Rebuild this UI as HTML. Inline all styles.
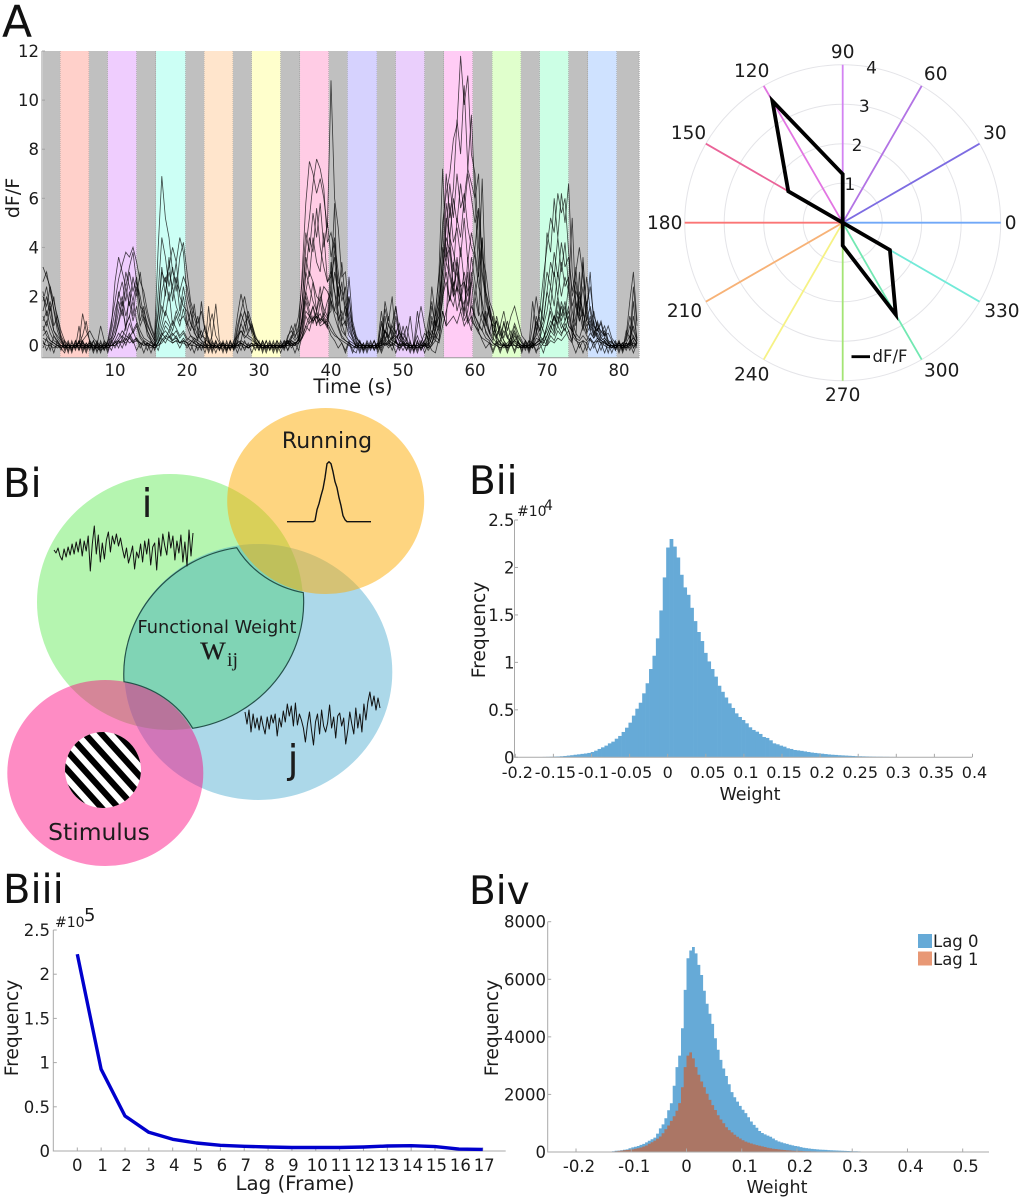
<!DOCTYPE html>
<html lang="en">
<head>
<meta charset="utf-8">
<title>Functional weight figure</title>
<style>
html,body{margin:0;padding:0;background:#fff;width:1027px;height:1200px;overflow:hidden}
svg{display:block}
text{font-family:"DejaVu Sans","Liberation Sans",sans-serif;fill:#1c1c1c}
.panel{font-size:40px;fill:#111}
.tick{font-size:16.5px}
.title{font-size:17.5px}
.freq{font-size:18.7px}
</style>
</head>
<body>
<svg id="fig" xmlns="http://www.w3.org/2000/svg" width="1027" height="1200" viewBox="0 0 1027 1200">
  <rect width="1027" height="1200" fill="#fff"/>

  <text class="panel" x="2" y="36.5" style="font-size:44px">A</text>
  <text class="panel" x="3" y="497">Bi</text>
  <text class="panel" x="469" y="494" style="font-size:39px">Bii</text>
  <text class="panel" x="3" y="903">Biii</text>
  <text class="panel" x="469" y="904" style="font-size:39px">Biv</text>

  <g id="traces-panel"></g>
  <text x="353" y="393" text-anchor="middle" font-size="19.5">Time (s)</text>
  <text transform="translate(19,198) rotate(-90)" text-anchor="middle" font-size="19">dF/F</text>

  <g id="polar-panel"></g>

  <g id="venn">
    <defs>
      <clipPath id="clip-green"><ellipse cx="170" cy="602" rx="133" ry="128"/></clipPath>
      <clipPath id="clip-grating"><circle cx="103" cy="770" r="38"/></clipPath>
    </defs>
    <ellipse cx="170" cy="602" rx="133" ry="128" fill="#b5f5b0"/>
    <ellipse cx="258.3" cy="672" rx="134" ry="128" fill="#acd8e9"/>
    <g clip-path="url(#clip-green)">
      <ellipse cx="258.3" cy="672" rx="134" ry="128" fill="#80d4b5"/>
    </g>
    <ellipse cx="325.7" cy="501" rx="98.5" ry="93" fill="#fdab01" fill-opacity="0.5"/>
    <ellipse cx="105.3" cy="773" rx="98" ry="93" fill="#fd007c" fill-opacity="0.45"/>
    <path d="M236.7 547.7 A134 128 0 0 0 124 681.7 A98 93 0 0 1 192.7 728.3 A133 128 0 0 0 303.3 592.7 A98.5 93 0 0 1 236.7 547.7 Z" fill="none" stroke="#24524a" stroke-width="1.2"/>
    <circle cx="103" cy="770" r="38" fill="#fff"/>
    <g id="grating" clip-path="url(#clip-grating)"></g>
    <text x="147" y="517" font-size="39" text-anchor="middle">i</text>
    <text x="293" y="773" font-size="39" text-anchor="middle">j</text>
    <text x="327" y="448" font-size="22" text-anchor="middle">Running</text>
    <text x="99" y="840" font-size="23.4" text-anchor="middle">Stimulus</text>
    <text x="217" y="633" font-size="17.8" text-anchor="middle">Functional Weight</text>
    <text x="200" y="659" font-size="36" style="font-family:'Liberation Serif',serif">w</text>
    <text x="227" y="666" font-size="20" style="font-family:'Liberation Serif',serif">ij</text>
  </g>

  <g id="bii"></g>
  <text class="title" x="750" y="800" text-anchor="middle">Weight</text>
  <text class="freq" transform="translate(485,630) rotate(-90)" text-anchor="middle">Frequency</text>
  <text x="517" y="516" font-size="14">#10</text>
  <text x="544" y="510" font-size="14">4</text>

  <g id="biii"></g>
  <text x="295" y="1190" text-anchor="middle" font-size="19.8">Lag (Frame)</text>
  <text class="freq" transform="translate(18,1028) rotate(-90)" text-anchor="middle">Frequency</text>
  <text x="55" y="927" font-size="14">#10</text>
  <text x="84" y="921" font-size="18">5</text>

  <g id="biv"></g>
  <text class="title" x="777" y="1193" text-anchor="middle">Weight</text>
  <text class="freq" transform="translate(498,1028) rotate(-90)" text-anchor="middle">Frequency</text>
  <g>
    <rect x="918" y="934" width="14" height="14" fill="#0072bd" fill-opacity="0.6"/>
    <text class="tick" x="933" y="947">Lag 0</text>
    <rect x="918" y="951.5" width="14" height="14" fill="#d95319" fill-opacity="0.6"/>
    <text class="tick" x="933" y="965">Lag 1</text>
  </g>
</svg>

<script>
// ---------- Panel A data ----------
const traceBandStarts = [0,2.4,6.4,9,13,15.7,19.8,22.4,26.4,29,33,35.7,39.7,42.3,46.4,49,53,55.7,59.7,62.4,66.4,69,73,75.7,79.7];
const traceBandEnds   = [2.4,6.4,9,13,15.7,19.8,22.4,26.4,29,33,35.7,39.7,42.3,46.4,49,53,55.7,59.7,62.4,66.4,69,73,75.7,79.7,82.8];
const traceBandColors = ['#c0c0c0','#ffd0ca','#c0c0c0','#efcdfe','#c0c0c0','#ccfff5','#c0c0c0','#ffe5cc','#c0c0c0','#ffffcc','#c0c0c0','#ffcce5','#c0c0c0','#d6d2fe','#c0c0c0','#eacffc','#c0c0c0','#ffccf5','#c0c0c0','#e0ffcc','#c0c0c0','#ccffe5','#c0c0c0','#cfe2ff','#c0c0c0'];
const traceXTicks = [10,20,30,40,50,60,70,80];
const traceYTicks = [0,2,4,6,8,10,12];
const traceSampleStep = 0.5;
// dF/F in tenths, one value per 0.5 s
const traceA = [32,28,24,18,12,6,2,0,-1,0,0,-1,0,-1,0,-1,-2,-1,2,10,18,27,33,38,36,40,34,26,22,14,8,4,40,69,52,44,30,26,22,28,24,16,11,7,4,3,1,0,-1,0,0,-1,-1,1,12,21,14,10,6,3,1,0,-1,0,0,-1,0,-1,3,8,4,6,30,58,75,70,62,68,60,48,108,60,48,28,30,14,8,3,1,0,-1,0,0,-1,4,15,8,6,3,5,3,1,0,0,-1,0,0,-1,0,8,22,50,62,70,84,90,118,98,110,78,70,40,28,20,12,8,4,8,14,6,12,16,10,4,2,0,-1,6,14,28,40,52,46,62,54,60,38,22,30,40,28,16,24,12,8,6,4,8,3,1,0,-1,3,12,6,2];
const traceB = [26,30,22,15,8,3,0,-1,0,-1,1,0,-1,0,-1,0,-1,0,1,8,26,36,30,24,32,38,26,20,12,8,5,2,12,30,26,32,40,34,44,38,20,14,8,4,2,1,0,-1,0,-1,0,-1,0,-1,8,14,20,12,7,2,0,-1,0,0,-1,0,-1,0,1,4,2,4,18,40,52,66,76,72,64,42,46,38,26,22,16,10,4,1,0,-1,0,-1,0,0,-1,6,4,9,16,6,2,0,-1,0,0,-1,1,0,3,14,28,44,70,52,64,92,78,106,72,66,60,70,30,22,14,6,2,0,10,4,1,8,3,1,0,-1,0,10,6,20,46,38,60,44,62,50,66,30,18,12,36,10,8,14,6,9,3,1,0,-1,1,0,-1,2,24,8];
const traceC = [20,16,24,14,6,2,0,0,-1,0,0,-1,-1,0,0,-2,-1,0,0,3,10,22,16,30,24,18,26,16,10,6,2,0,6,22,28,18,24,16,12,20,10,6,17,5,2,0,-1,0,0,-1,-1,0,0,-1,4,9,5,14,9,4,1,-1,0,-1,0,0,-1,0,0,2,1,2,12,30,44,38,56,40,32,26,30,22,14,8,10,4,2,0,-1,0,0,-1,-1,0,0,12,2,3,4,2,1,0,0,-1,0,-1,0,0,12,6,16,30,48,66,52,70,56,62,48,40,36,24,18,10,6,3,1,2,6,3,1,2,1,0,-1,0,2,4,16,10,22,34,28,44,30,42,24,14,8,20,14,8,10,5,9,4,6,2,1,0,-1,0,1,0,4,1];
const traceD = [14,20,12,6,3,1,0,-1,0,0,-1,0,0,-1,0,-1,0,-1,0,2,6,14,20,12,18,10,16,8,12,4,2,0,4,12,22,30,24,34,20,16,14,9,6,2,1,0,0,-1,0,-1,0,0,-1,0,3,6,4,3,2,1,0,-1,0,-1,0,0,-1,0,1,2,1,2,8,22,30,26,20,18,24,22,18,14,12,6,4,2,1,0,-1,0,-1,0,0,-1,3,1,9,3,6,1,0,-1,0,0,-1,0,0,-1,1,4,8,30,44,38,24,30,18,26,20,36,26,14,10,6,3,1,0,-1,0,1,3,1,0,-1,0,0,-1,1,3,8,14,24,16,30,20,28,22,10,5,3,8,14,6,3,5,2,3,1,0,-1,0,-1,0,1,3,1];
const traceE = [10,14,8,4,2,0,-1,0,0,-1,0,2,4,6,3,1,0,-1,0,1,4,9,15,8,12,18,10,6,3,2,1,0,3,8,14,10,6,12,8,15,8,4,3,2,18,6,1,0,-1,0,0,-1,0,0,-1,2,9,4,3,1,0,-1,-1,0,0,-1,0,0,0,1,1,1,6,14,12,10,12,9,11,8,18,12,7,3,2,1,0,-1,0,0,-1,0,-1,0,2,0,1,0,12,3,1,0,-1,0,-1,0,0,2,6,3,9,18,34,28,20,24,14,18,9,12,8,6,14,5,3,1,0,-1,0,0,2,0,-1,0,0,-1,0,0,1,3,8,16,10,20,12,18,8,6,3,2,4,2,5,3,7,3,2,0,0,-1,0,0,-1,0,1,0];
const traceF = [6,10,5,2,1,0,0,-1,0,-1,8,-1,0,0,-1,-1,0,0,-1,0,2,5,3,8,12,6,9,4,2,1,0,-1,1,4,8,6,10,7,4,6,3,2,1,0,0,-1,0,0,-1,0,1,0,-1,0,1,2,1,0,1,0,-1,0,0,-1,0,-1,0,1,2,1,0,1,4,12,9,11,13,10,12,9,6,4,3,2,1,0,-1,0,0,-1,0,0,-1,-1,0,1,0,0,2,0,0,3,-1,0,0,1,5,3,1,6,12,24,40,30,22,34,20,14,30,10,8,5,3,2,1,0,1,0,0,-1,0,0,-1,0,-1,0,0,1,2,3,6,10,8,14,9,6,12,4,2,1,2,1,3,1,2,1,0,-1,0,0,1,-1,0,1,0,1];
const traceG = [4,6,2,1,0,-1,0,0,-1,0,1,13,6,2,0,-1,0,-1,0,0,1,3,6,4,9,5,8,3,1,0,0,-1,0,2,4,3,5,3,1,2,1,0,0,-1,0,0,-1,0,0,-1,-1,0,0,-1,0,1,0,-1,0,0,0,-1,0,0,-1,0,0,-1,1,0,1,1,3,8,6,12,9,11,10,7,26,58,8,4,2,1,0,-1,0,-1,0,-1,0,0,1,6,2,1,0,-1,0,1,0,0,-1,0,2,4,24,12,30,72,36,40,30,52,44,60,72,94,60,30,68,22,16,10,4,1,-1,0,1,0,0,-1,0,-1,0,1,2,1,4,8,5,12,7,10,16,6,3,30,8,4,2,1,3,1,1,0,-1,0,0,1,2,8,3,1];
const traceH = [8,4,2,1,0,-1,0,-1,0,0,1,4,10,1,0,0,-1,0,-1,0,0,2,1,4,3,6,2,1,0,1,0,-1,1,6,10,8,4,6,3,5,2,4,2,1,0,-1,16,1,0,-1,0,-1,0,-1,2,1,0,-1,0,1,0,0,-1,0,-1,0,0,0,2,1,0,3,10,30,24,18,14,20,15,12,14,30,22,9,4,20,6,2,0,-1,0,0,-1,0,9,2,0,3,1,0,1,0,-1,0,14,4,0,10,18,8,16,36,58,44,38,30,24,26,10,16,12,8,6,14,5,2,12,6,2,0,0,4,1,0,0,-1,8,20,10,6,1,6,12,8,18,12,24,52,16,10,34,14,30,8,4,2,1,0,0,-1,0,0,0,-1,12,3];
const traceI = [3,2,1,0,-1,0,-1,0,0,-1,2,1,0,1,0,-1,0,-1,0,0,1,2,4,2,5,2,3,1,1,0,-1,0,1,4,6,4,2,3,1,2,1,2,1,0,-1,0,7,13,4,1,0,0,-1,0,0,1,0,-1,0,0,0,-1,0,0,0,-1,0,0,1,0,1,2,6,18,12,16,11,13,9,10,20,42,30,18,24,8,3,0,-1,0,-1,0,0,1,14,3,4,2,1,6,0,0,0,-1,8,16,8,2,4,10,6,22,30,18,26,14,20,10,14,26,40,55,14,9,5,12,3,1,0,-1,2,5,1,0,-1,0,18,6,2,0,0,4,2,6,4,9,6,2,12,22,12,28,14,6,3,1,2,0,-1,0,0,-1,4,18,30,10];
const traceJ = [1,0,0,-1,0,0,-1,0,-1,0,0,0,-1,0,-1,0,8,2,0,0,0,1,2,1,3,1,2,1,0,1,0,0,0,1,3,2,1,2,1,1,0,1,3,1,0,-1,0,4,17,2,0,0,-1,0,0,0,-1,0,0,-1,0,0,-1,0,0,0,-1,0,0,0,0,3,10,20,14,10,12,8,9,11,34,22,10,14,8,28,10,4,1,0,0,-1,0,0,0,18,10,20,1,0,8,2,12,0,4,0,0,1,10,4,2,14,8,10,12,9,14,8,11,6,20,12,44,8,16,4,10,3,0,0,0,2,0,-1,0,0,1,0,1,2,0,2,1,3,2,4,6,1,32,14,6,18,6,10,3,2,1,0,0,-1,0,0,1,0,18,2];
const traceK = [18,24,14,20,9,3,-1,2,-2,1,-2,2,-1,2,-2,1,-2,2,-1,6,14,20,26,18,30,22,28,16,14,9,5,2,22,44,36,24,32,22,36,42,30,18,13,9,14,6,3,-1,2,-2,2,-2,1,-2,6,13,9,12,5,1,-2,2,-1,2,-2,2,-1,2,-2,3,6,12,26,46,38,54,44,58,40,50,36,44,20,34,18,12,6,2,-2,1,-2,2,-2,1,-2,3,1,4,2,-1,2,-2,1,-2,2,-2,1,-1,4,12,18,30,52,44,60,50,66,54,70,60,50,56,36,30,18,14,6,4,9,3,6,2,4,1,-2,2,-1,3,2,18,30,24,38,28,42,32,36,20,26,14,24,10,16,8,6,10,4,5,2,-1,2,-2,1,4,-1,2];
const traceL = [22,12,18,8,12,4,1,-2,1,-1,2,-2,1,-1,2,-1,1,-2,2,3,8,18,12,24,16,28,20,30,18,12,7,3,14,32,20,36,18,28,14,24,16,9,6,12,3,8,2,-2,1,-1,1,-2,2,-1,1,9,14,6,9,3,1,-2,2,-2,1,-2,2,-1,4,6,3,8,18,36,28,44,34,30,46,26,28,36,16,26,12,20,8,3,1,-2,2,-1,2,-2,10,5,12,4,16,3,5,2,-2,1,-2,2,-1,4,16,8,12,40,34,58,42,48,36,52,34,46,38,28,44,18,12,8,10,5,2,-1,4,9,5,2,-1,2,1,12,6,10,22,16,30,20,34,24,28,16,22,18,10,6,12,4,10,5,8,2,-1,2,-2,1,-1,2,8,2];
const traceM = [12,8,16,6,4,2,-2,1,-2,2,-1,2,-2,1,-2,2,-1,1,-2,1,4,10,18,6,22,12,24,10,16,6,3,1,8,16,12,22,8,14,10,12,8,14,5,3,6,2,-2,2,-1,1,-2,1,-2,2,4,6,3,5,8,2,-1,2,-2,1,-1,2,-1,2,1,3,9,2,12,22,16,26,14,24,12,18,22,14,24,10,16,6,3,-1,2,-2,1,-1,2,-1,2,6,3,8,5,9,2,8,1,-2,1,-1,2,6,4,2,6,20,26,18,34,22,40,26,16,30,20,30,14,10,16,6,3,8,3,10,3,6,2,-1,2,-2,3,9,4,2,8,14,6,18,10,16,8,6,18,10,14,5,8,4,7,3,5,1,2,-2,1,-2,6,3,-1,1];
const traceN = [-1,3,-2,4,1,-2,2,-3,2,-2,2,-3,1,-2,2,-3,2,-2,1,-2,2,-1,3,0,4,1,3,-1,2,-2,2,-2,2,5,3,6,2,4,1,3,1,-2,2,-2,1,-3,2,-3,2,-2,1,-3,2,-2,1,-2,2,-1,1,-2,2,-3,2,-2,2,-3,1,-2,2,-1,1,-2,4,8,12,9,14,10,13,11,8,5,3,1,-2,2,-2,-3,2,-3,1,-2,2,-3,1,0,2,-2,2,-2,1,-2,2,-3,2,-2,1,-2,0,2,1,8,14,20,16,24,20,30,22,26,12,9,6,3,2,-2,2,-2,1,-3,1,-2,2,-3,2,-2,1,-2,-1,1,4,8,12,9,16,10,14,6,3,-1,2,-2,3,-1,2,-2,2,-3,2,-2,2,-3,1,-2,2,-1];
const traceO = [2,-2,1,-3,2,-1,-3,1,-3,2,-2,1,-3,1,-3,1,-3,1,-3,2,-1,2,-1,3,1,2,-2,1,-3,1,-3,1,-2,3,1,4,1,2,-1,2,-1,1,-3,1,-2,2,-3,1,-3,1,-3,2,-2,1,-3,1,-2,1,-3,1,-2,1,-3,1,-3,1,-3,1,-2,1,-3,1,3,6,10,16,8,18,10,8,4,2,-1,1,-3,1,-3,1,-3,1,-3,1,-2,1,-3,1,-1,1,-3,1,-2,1,-3,1,-3,1,-3,1,-2,-3,3,14,8,46,20,36,24,12,36,18,10,6,2,-1,1,-3,1,-3,1,-2,1,-3,1,-2,1,-3,1,-3,1,-3,2,6,4,8,5,7,3,1,-3,1,-3,1,-2,1,-3,1,-3,1,-3,1,-3,1,-2,1,-3,1];
const allTraces = [traceA,traceB,traceC,traceD,traceE,traceF,traceG,traceH,traceI,traceJ,traceK,traceL,traceM,traceN,traceO];

// ---------- Polar data ----------
const polarAngles = [0,30,60,90,120,150,180,210,240,270,300,330];
const polarSpokeColors = ['#70a8f8','#7d6ce2','#b273e4','#d383f2','#e275e2','#ea6398','#fb7575','#f7b277','#f6f285','#a4e474','#72e8b2','#72ead8'];
const polarRings = [1,2,3,4];
const polarResponse = [0,0,0,1.23,3.56,1.59,0,0,0,0.58,2.69,1.38];

// ---------- Bi schematic signals ----------
const signalI = [0,-3,2,-6,-10,1,-7,3,-5,6,-4,8,-2,11,-6,9,-1,14,-21,6,24,-4,15,-12,7,-9,10,18,-2,14,6,16,4,12,1,-8,2,-13,-5,4,-19,-2,-8,6,-12,9,-4,11,-15,3,7,-20,12,-6,16,4,-5,18,2,14,-10,9,-3,15,-12,8,-16,20,-6,17];
const signalJ = [8,-4,10,-12,6,-8,2,-10,4,-6,-14,3,-9,5,-3,6,-16,2,-7,9,-2,16,4,14,-6,17,-5,6,0,-8,-22,-4,8,-10,-25,-2,6,-14,10,-6,-12,-3,15,-8,3,-18,4,7,-6,2,-24,-10,8,-4,-14,12,-8,6,-12,16,0,18,28,14,24,10,22,12];
const signalRunning = [0,0,0,0,0,0,0,0,0,0,0,0,0,0,1,12,18,26,33,44,58,60,58,50,40,34,24,16,6,2,0,0,0,0,0,0,0,0,0,0,0,0,0];

// ---------- Bii data (×10^4) ----------
const biiStart = -0.2;
const biiBinWidth = 0.0045;
const biiCounts = [0,0,.001,.001,.001,.002,.002,.003,.004,.005,.006,.008,.009,.011,.014,.018,.022,.027,.031,.036,.04,.046,.056,.07,.088,.105,.123,.147,.165,.196,.225,.267,.312,.365,.439,.512,.575,.674,.78,.93,1.07,1.253,1.547,1.895,2.21,2.30,2.22,2.105,1.923,1.79,1.712,1.575,1.435,1.32,1.225,1.10,1.01,.93,.85,.754,.69,.63,.568,.52,.463,.425,.393,.358,.316,.288,.27,.246,.214,.204,.179,.147,.137,.123,.112,.095,.088,.077,.073,.068,.062,.056,.05,.046,.042,.038,.034,.03,.027,.025,.022,.02,.018,.016,.014,.012,.011,.01,.009,.008,.007,.006,.006,.005,.005,.004,.004,.003,.003,.003,.002,.002,.002,.002,.001,.001,.001,.001,.001,.001,.001,0,0,0,0,0,0,0,0,0];
const biiXTicks = [-0.2,-0.15,-0.1,-0.05,0,0.05,0.1,0.15,0.2,0.25,0.3,0.35,0.4];
const biiYTicks = [0,0.5,1,1.5,2,2.5];

// ---------- Biii data (×10^5) ----------
const lagFrames = [0,1,2,3,4,5,6,7,8,9,10,11,12,13,14,15,16,17];
const lagFrequency = [2.226,0.925,0.396,0.211,0.132,0.09,0.064,0.053,0.045,0.04,0.04,0.04,0.045,0.057,0.06,0.05,0.022,0.018];
const biiiYTicks = [0,0.5,1,1.5,2,2.5];

// ---------- Biv data ----------
const bivStart = -0.15;
const bivBinWidth = 0.005;
const lag0Counts = [5,8,14,24,40,50,62,75,92,130,160,185,210,245,280,335,390,445,500,640,820,960,1170,1450,1690,2300,2950,3350,4300,5630,6730,7000,7120,6900,6500,6150,5600,5150,4800,4450,3950,3550,3200,2900,2640,2350,2080,1900,1750,1600,1470,1350,1210,1060,940,840,730,660,610,570,530,470,410,365,335,305,280,255,230,210,195,170,150,135,120,108,100,92,85,78,72,66,60,56,52,47,42,38,34,30,27,24,21,19,17,15,13,11,10,9,8,7,6,5,5,4,4,3,3,2];
const lag1Counts = [3,5,10,16,28,38,48,60,70,80,92,110,130,155,190,225,285,340,395,465,540,650,790,920,1080,1240,1430,1700,2250,2950,3350,3460,3250,2950,2680,2450,2250,2020,1810,1630,1460,1280,1130,1000,860,760,680,600,530,470,410,360,325,295,265,240,220,195,175,150,130,115,105,92,80,70,62,55,50,46,42,38,32,28,25,22,20,17,14,12,10,8,7,6,5,4,3,2,2,1];
const bivXTicks = [-0.2,-0.1,0,0.1,0.2,0.3,0.4,0.5];
const bivYTicks = [0,2000,4000,6000,8000];

// ---------- helpers ----------
const NS = 'http://www.w3.org/2000/svg';
function mk(parent, tag, attrs, content) {
  const el = document.createElementNS(NS, tag);
  for (const k in attrs) el.setAttribute(k, attrs[k]);
  if (content !== undefined) el.textContent = content;
  parent.appendChild(el);
  return el;
}
function linear(d0, d1, r0, r1) { return v => r0 + (v - d0) * (r1 - r0) / (d1 - d0); }
const AXIS = '#a9a9a9';

// ---------- Panel A ----------
(function () {
  const g = document.getElementById('traces-panel');
  const x = linear(0, 10, 43, 115);
  const y = linear(0, 12, 345.5, 51);
  traceBandStarts.forEach((s, i) => {
    const r = mk(g, 'rect', {x: x(s), y: y(12), width: x(traceBandEnds[i]) - x(s), height: y(-0.5) - y(12), fill: traceBandColors[i]});
    
    
    const ln = mk(g, 'line', {x1: x(traceBandEnds[i]), x2: x(traceBandEnds[i]), y1: y(12), y2: y(-0.5), stroke: '#777', 'stroke-width': 0.6, 'stroke-dasharray': '1 1'});
    
    
  });
  allTraces.forEach(tr => {
    const d = tr.map((v, i) => (i ? 'L' : 'M') + x(i * traceSampleStep).toFixed(1) + ' ' + y(v / 10).toFixed(1)).join('');
    const p = mk(g, 'path', {d: d, fill: 'none', stroke: '#000', 'stroke-width': 0.8, 'stroke-opacity': 0.72});
    
    
  });
  const ax = mk(g, 'path', {d: `M${x(0) - 1} ${y(12)}V${y(-0.5)}H${x(82.8)}`, fill: 'none', stroke: '#999', 'stroke-width': 1});
  
  
  traceXTicks.forEach(t => {
    const l = mk(g, 'text', {class: 'tick', x: x(t), y: 376, 'text-anchor': 'middle'}, t);
    
    
  });
  traceYTicks.forEach(t => {
    const l = mk(g, 'text', {class: 'tick', x: 39, y: y(t) + 6, 'text-anchor': 'end'}, t);
    
    
    const m = mk(g, 'line', {x1: 42, x2: 45, y1: y(t), y2: y(t), stroke: '#999', 'stroke-width': 0.8});
    
    
  });
})();

// ---------- Polar ----------
(function () {
  const g = document.getElementById('polar-panel');
  const cx = 842.7, cy = 222.7;
  const r = linear(0, 4, 0, 158);
  const px = (a, v) => cx + v * Math.cos(a * Math.PI / 180);
  const py = (a, v) => cy - v * Math.sin(a * Math.PI / 180);
  function labelNudge(a) {
    switch (a) {
      case 30: return [-2, -1];
      case 60: return [4, 5];
      case 120: return [-2, 2];
      case 150: return [0, -1];
      case 210: return [-4, -1];
      case 240: return [-2, -3];
      case 300: return [10, -7];
      case 330: return [5, -1];
      default: return [0, 0];
    }
  }
  polarRings.forEach(v => {
    const c = mk(g, 'circle', {cx: cx, cy: cy, r: r(v), fill: 'none', stroke: '#e4e4e8', 'stroke-width': 1});
    
    
  });
  polarAngles.forEach((a, i) => {
    const s = mk(g, 'line', {x1: cx, y1: cy, x2: px(a, r(4)), y2: py(a, r(4)), stroke: polarSpokeColors[i], 'stroke-width': 1.8});
    
    
    const lr = a === 0 ? 168 : a === 90 ? 171 : a === 180 ? 178 : a === 270 ? 172 : 178;
    const n = labelNudge(a);
    const t = mk(g, 'text', {style: 'font-size:18.5px', x: px(a, lr) + n[0], y: py(a, lr) + 6.5 + n[1], 'text-anchor': 'middle'}, a);
    
    
  });
  polarRings.forEach(v => {
    const t = mk(g, 'text', {style: 'font-size:17px', x: px(79.5, r(v)), y: py(79.5, r(v)) + 6, 'text-anchor': 'middle'}, v);
    
    
  });
  const pts = polarAngles.map((a, i) => px(a, r(polarResponse[i])).toFixed(1) + ',' + py(a, r(polarResponse[i])).toFixed(1)).join(' ');
  const poly = mk(g, 'polygon', {points: pts, fill: 'none', stroke: '#000', 'stroke-width': 3.8, 'stroke-linejoin': 'miter'});
  
  
  const key = mk(g, 'line', {x1: 851.5, x2: 870, y1: 356.7, y2: 356.7, stroke: '#000', 'stroke-width': 2.8});
  
  
  const keyText = mk(g, 'text', {style: 'font-size:16.5px', x: 872.5, y: 362}, 'dF/F');
  
  
})();

// ---------- Bi signals and grating ----------
(function () {
  const g = document.getElementById('venn');
  function draw(values, x0, x1, yBase, sw, color) {
    const step = (x1 - x0) / (values.length - 1);
    const d = values.map((v, i) => (i ? 'L' : 'M') + (x0 + i * step).toFixed(1) + ' ' + (yBase - v).toFixed(1)).join('');
    return mk(g, 'path', {d: d, fill: 'none', stroke: color, 'stroke-width': sw, 'stroke-linejoin': 'round'});
  }
  const a = draw(signalI, 54, 193, 550, 1, '#111');
  
  
  const b = draw(signalJ, 245, 380, 720, 1, '#111');
  
  
  const c = draw(signalRunning, 287, 371, 521.7, 1.4, '#111');
  
  
  const gr = document.getElementById('grating');
  const st = mk(gr, 'g', {transform: 'rotate(48 103 770)'});
  
  
  for (let i = -4; i <= 4; i++) {
    const s = mk(st, 'rect', {x: 50, y: 771.6 + i * 12.4 - 3.1, width: 110, height: 6.2, fill: '#000'});
    
    
  }
})();

// ---------- Shared axis drawing ----------
function drawAxes(g, prefix, xLeft, xRight, yBottom, yTop, xTicks, yTicks, xs, ys, xLabelY, yLabelX, fmtSize, labelDx) {
  const ax = mk(g, 'path', {d: `M${xLeft} ${yTop}V${yBottom}H${xRight}`, fill: 'none', stroke: AXIS, 'stroke-width': 1});
  
  
  xTicks.forEach(t => {
    const m = mk(g, 'line', {x1: xs(t), x2: xs(t), y1: yBottom, y2: yBottom - 3.5, stroke: AXIS, 'stroke-width': 1});
    
    
    const l = mk(g, 'text', {style: 'font-size:' + fmtSize + 'px', x: xs(t) + (t === 0 ? 0 : labelDx), y: xLabelY, 'text-anchor': 'middle'}, t);
    
    
  });
  yTicks.forEach(t => {
    const m = mk(g, 'line', {x1: xLeft, x2: xLeft + 3.5, y1: ys(t), y2: ys(t), stroke: AXIS, 'stroke-width': 1});
    
    
    const l = mk(g, 'text', {class: 'tick', x: yLabelX, y: ys(t) + 6, 'text-anchor': 'end'}, t);
    
    
  });
}

// ---------- Bii ----------
(function () {
  const g = document.getElementById('bii');
  const x = linear(0, 0.05, 667.7, 705.8);
  const y = linear(0, 2.5, 757.3, 520);
  biiCounts.forEach((v, i) => {
    if (v <= 0) return;
    const x0 = x(biiStart + i * biiBinWidth), x1 = x(biiStart + (i + 1) * biiBinWidth);
    const b = mk(g, 'rect', {x: x0, y: y(v), width: x1 - x0 + 0.3, height: y(0) - y(v), fill: '#66aad7'});
    
    
  });
  drawAxes(g, 'bii', 514.5, 972, 757.3, 520, biiXTicks, biiYTicks, x, y, 778, 514.5, 16, 2);
})();

// ---------- Biii ----------
(function () {
  const g = document.getElementById('biii');
  const x = linear(0, 17, 77.3, 482.7);
  const y = linear(0, 2.5, 1151, 930);
  drawAxes(g, 'biii', 53.3, 505.7, 1151, 930, lagFrames, biiiYTicks, x, y, 1171, 50, 16.5, 1.5);
  const d = lagFrames.map((f, i) => (i ? 'L' : 'M') + x(f).toFixed(1) + ' ' + y(lagFrequency[i]).toFixed(1)).join('');
  const p = mk(g, 'path', {d: d, fill: 'none', stroke: '#0000cd', 'stroke-width': 3.4, 'stroke-linejoin': 'round'});
  
  
})();

// ---------- Biv ----------
(function () {
  const g = document.getElementById('biv');
  const x = linear(0, 0.5, 686.5, 962.7);
  const y = linear(0, 8000, 1152, 921.7);
  [[lag0Counts, '#0072bd', 'lag-0-bar'], [lag1Counts, '#d95319', 'lag-1-bar']].forEach(s => {
    const counts = s[0];
    const d = ['M' + x(bivStart).toFixed(1) + ' ' + y(0)];
    counts.forEach((v, i) => {
      d.push('V' + y(v).toFixed(1) + 'H' + x(bivStart + (i + 1) * bivBinWidth).toFixed(1));
    });
    d.push('V' + y(0) + 'Z');
    const b = mk(g, 'path', {d: d.join(''), fill: s[1], 'fill-opacity': 0.6});
    
    
  });
  drawAxes(g, 'biv', 547.7, 989, 1152, 921.7, bivXTicks, bivYTicks, x, y, 1172, 546, 16.5, 3);
})();
</script>
</body>
</html>
